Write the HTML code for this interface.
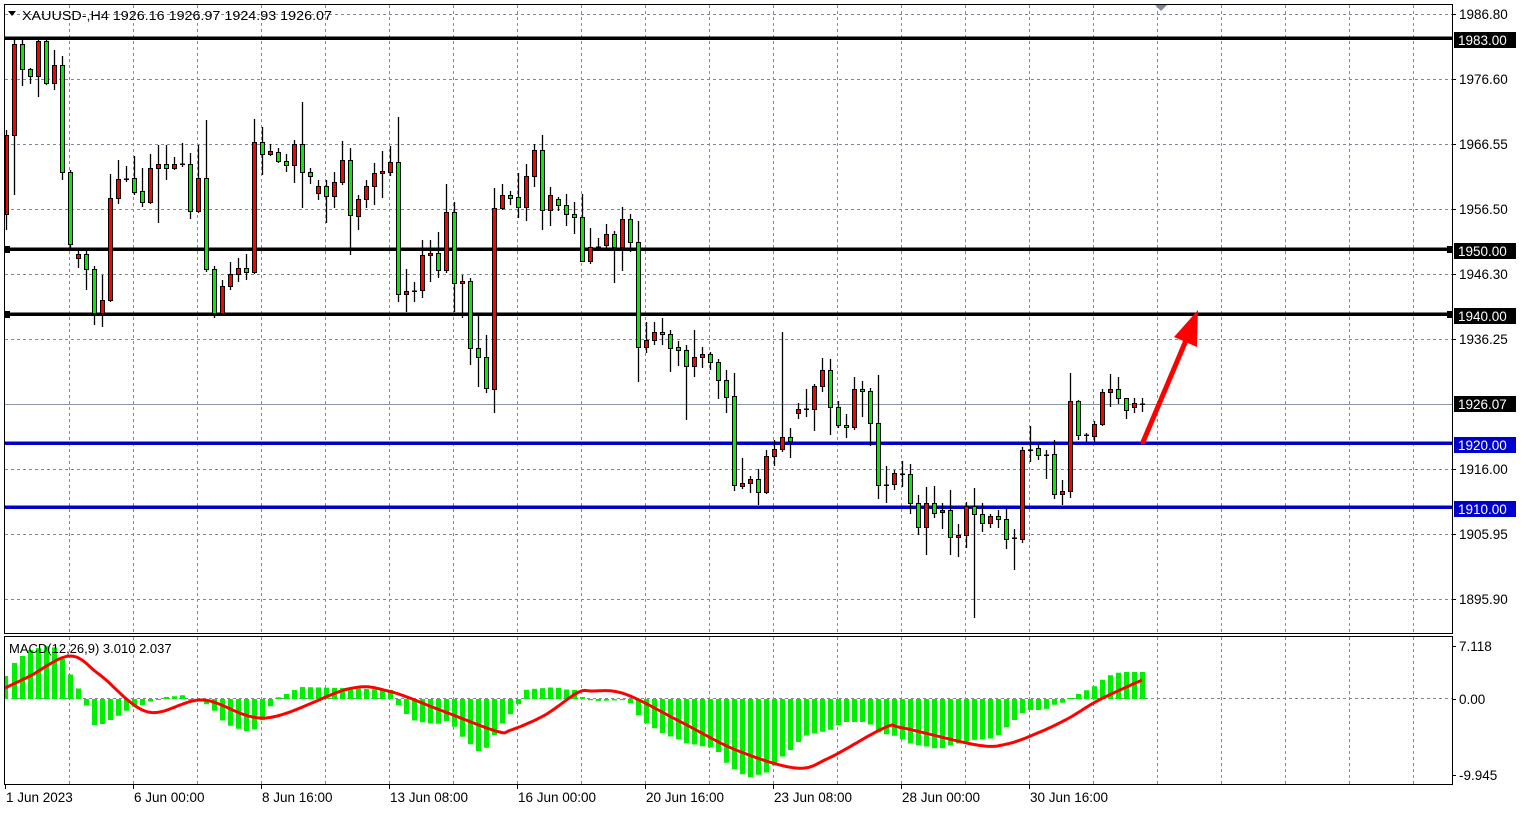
<!DOCTYPE html>
<html><head><meta charset="utf-8"><style>
html,body{margin:0;padding:0;background:#fff;}
svg{display:block;font-family:"Liberation Sans",sans-serif;}
</style></head><body>
<svg id="c" width="1526" height="813" xmlns="http://www.w3.org/2000/svg">
<rect x="0" y="0" width="1526" height="813" fill="#fff"/>
<g id="grid" stroke="#7d8a99" stroke-width="1" stroke-dasharray="3,3"></g>
<g id="lines"></g>
<g id="candles"></g>
<g id="macd"></g>
<g id="frame" fill="none" stroke="#000" stroke-width="1">
<rect x="4.5" y="4.5" width="1448" height="629"/>
<rect x="4.5" y="636.5" width="1448" height="148"/>
</g>
<path d="M1155,5 L1167,5 L1161,11 Z" fill="#7d8a99"/>
<g id="labels" font-size="13.5" fill="#000"></g>
<text x="22" y="20" font-size="13" textLength="310" lengthAdjust="spacingAndGlyphs">XAUUSD-,H4  1926.16 1926.97 1924.93 1926.07</text>
<path d="M8,11 L16,11 L12,16 Z" fill="#000"/>
<text x="9" y="653" font-size="13">MACD(12,26,9) 3.010 2.037</text>
</svg>
<script>
var NS="http://www.w3.org/2000/svg";
function el(p,t,a){var e=document.createElementNS(NS,t);for(var k in a)e.setAttribute(k,a[k]);p.appendChild(e);return e;}
var grid=document.getElementById('grid'),lines=document.getElementById('lines'),cg=document.getElementById('candles'),mg=document.getElementById('macd'),lb=document.getElementById('labels');
for(var x=69;x<1452;x+=64){el(grid,'line',{x1:x+.5,y1:5,x2:x+.5,y2:633});el(grid,'line',{x1:x+.5,y1:637,x2:x+.5,y2:784});}
var hy=[14,79,144,209,274,339,469,534,599];
hy.forEach(function(y){el(grid,'line',{x1:5,y1:y+.5,x2:1452,y2:y+.5});});
el(grid,'line',{x1:5,y1:404.5,x2:1452,y2:404.5,'stroke-dasharray':'none',stroke:'#8a96a3'});
el(grid,'line',{x1:5,y1:698.5,x2:1452,y2:698.5});
[[38,'#000'],[249,'#000'],[314,'#000'],[443,'#0000cc'],[507,'#0000cc']].forEach(function(a){el(lines,'rect',{x:5,y:a[0]-1.5,width:1447,height:3.5,fill:a[1]});});
el(lines,'rect',{x:4,y:246,width:6,height:7,fill:'#000'});
el(lines,'rect',{x:4,y:311,width:6,height:7,fill:'#000'});
el(lines,'rect',{x:1447,y:246,width:6,height:7,fill:'#000'});
el(lines,'rect',{x:1447,y:311,width:6,height:7,fill:'#000'});
var D=[[214,135,130,230],[135,44,38,195],[44,69,40,86],[69,76,68,84],[76,41,38,97],[41,83,38,85],[83,65,50,90],[65,172,56,180],[172,244,170,250],[258,254,250,268],[254,269,250,290],[269,313,266,325],[313,300,275,327],[300,198,174,302],[198,179,160,204],[179,179,166,182],[178,192,156,195],[191,202,168,207],[202,168,154,204],[168,164,145,223],[164,168,145,180],[168,164,157,170],[164,164,143,167],[164,211,153,219],[211,178,145,213],[178,269,120,272],[269,313,266,318],[313,286,280,315],[286,274,262,290],[274,268,258,282],[268,272,254,280],[272,142,119,274],[142,154,127,175],[154,151,144,156],[152,161,148,163],[161,165,154,172],[165,144,140,183],[144,172,102,208],[172,176,168,184],[193,186,180,200],[186,196,180,223],[196,182,172,208],[182,160,141,185],[160,215,148,255],[216,199,195,230],[199,186,180,208],[186,173,163,205],[173,171,151,198],[172,162,146,176],[162,294,117,302],[294,291,269,312],[291,291,282,302],[290,255,240,298],[255,253,240,282],[253,270,232,278],[270,212,184,273],[212,283,202,312],[283,281,275,318],[281,348,278,365],[348,357,315,387],[357,388,335,393],[389,208,188,413],[208,195,184,210],[195,198,191,205],[197,207,173,218],[207,176,164,221],[176,150,144,187],[150,210,135,230],[210,195,187,226],[199,205,197,211],[205,214,194,226],[214,217,202,234],[217,261,194,262],[261,247,228,264],[247,247,238,250],[245,234,224,250],[234,247,231,283],[247,219,207,271],[219,242,214,252],[242,347,221,382],[347,340,322,353],[340,332,322,345],[332,334,318,345],[334,348,330,372],[347,350,341,366],[350,366,345,420],[366,357,330,377],[357,354,347,368],[354,362,352,370],[362,380,359,399],[380,397,370,413],[396,485,373,491],[486,483,458,489],[483,479,476,493],[479,492,469,505],[492,456,450,494],[456,449,440,466],[449,437,332,452],[437,441,428,458],[413,409,403,419],[409,409,389,417],[409,386,384,431],[386,370,358,392],[370,407,359,435],[407,425,401,428],[425,427,414,438],[427,389,377,430],[389,391,381,417],[391,423,388,446],[423,485,375,499],[485,485,466,503],[484,473,470,490],[474,474,461,487],[474,503,464,514],[503,527,495,535],[527,503,487,555],[503,513,486,518],[512,510,503,529],[510,537,490,555],[537,535,524,557],[535,506,502,548],[506,514,488,618],[514,523,503,532],[523,516,514,528],[516,519,510,528],[519,539,509,549],[538,538,529,570],[539,450,447,543],[450,450,426,462],[448,455,444,460],[455,455,450,479],[454,494,440,499],[494,491,480,505],[491,401,373,498],[401,435,400,440],[435,435,433,442],[436,424,421,442],[424,392,389,426],[392,389,374,407],[389,398,377,404],[398,410,398,419],[407,403,398,413],[404,404,398,412]];
D.forEach(function(d,i){
  var cx=6+8*i; if(cx<5) return;
  el(cg,'line',{x1:cx+.5,y1:d[2],x2:cx+.5,y2:d[3],stroke:'#000','stroke-width':1.3});
  var t=Math.min(d[0],d[1]),b=Math.max(d[0],d[1]);
  if(b-t<1){el(cg,'rect',{x:cx-2,y:t-0.5,width:5,height:1.5,fill:'#000'});return;}
  var col=d[1]<d[0]?'#ff0000':'#00ee00';
  var x0=Math.max(cx-2,5);
  el(cg,'rect',{x:x0+.5,y:t+.5,width:cx+3-x0-1,height:b-t,fill:col,stroke:'#000','stroke-width':1});
});
el(cg,'line',{x1:1143,y1:442,x2:1187,y2:338,stroke:'#ff0000','stroke-width':5,'stroke-linecap':'round'});
el(cg,'path',{d:'M1198,310 L1174,337 L1197,347 Z',fill:'#ff0000'});
var K=[[6,676],[14,663],[22,656],[30,650],[52,645],[60,655],[68,671],[76,685],[84,699],[92,725],[100,725],[108,721],[116,717],[124,712],[132,707],[140,706],[148,702],[156,700],[164,697],[172,697],[180,694],[188,699],[196,699],[204,703],[212,708],[220,719],[228,725],[236,728],[244,731],[252,731],[260,724],[268,709],[276,698],[284,695],[292,691],[300,687],[340,688],[392,690],[396,703],[404,712],[412,720],[420,722],[428,723],[436,725],[444,720],[452,724],[460,735],[468,742],[476,751],[484,751],[492,738],[500,726],[508,716],[516,709],[524,690],[532,689],[556,687],[564,690],[572,688],[580,696],[588,700],[596,701],[628,700],[636,713],[644,722],[652,727],[660,732],[668,736],[676,738],[684,743],[692,744],[700,746],[708,747],[716,749],[724,761],[732,768],[740,773],[748,778],[756,775],[764,774],[772,768],[780,758],[788,752],[796,744],[804,736],[812,734],[820,732],[828,731],[836,726],[844,722],[868,722],[876,732],[884,734],[892,735],[900,738],[908,743],[916,745],[924,746],[932,748],[940,749],[948,746],[956,744],[964,742],[972,740],[988,739],[996,737],[1004,729],[1012,722],[1020,714],[1028,710],[1044,710],[1052,705],[1060,704],[1068,699],[1076,695],[1084,691],[1092,688],[1100,681],[1108,676],[1116,673],[1124,672],[1142,672]];
function interp(P,x){if(x<=P[0][0])return P[0][1];for(var j=1;j<P.length;j++){if(x<=P[j][0]){var a=P[j-1],b=P[j];return a[1]+(b[1]-a[1])*(x-a[0])/(b[0]-a[0]);}}return P[P.length-1][1];}
for(var i=0;i<143;i++){var cx=6+8*i;var y=interp(K,cx);var z=699;
  var t=Math.min(y,z),h=Math.abs(y-z);if(h<1)h=1;
  el(mg,'rect',{x:Math.max(cx-2,5),y:t,width:cx<8?3:5,height:h,fill:'#00ee00'});}
var S=[[5,688],[30,676],[70,656],[100,675],[148,712],[203,700],[266,718],[348,689],[388,691],[440,710],[496,731],[511,730],[545,715],[577,693],[592,691],[625,694],[681,722],[736,750],[796,768],[829,758],[884,728],[903,728],[977,745],[1007,744],[1040,732],[1069,718],[1099,700],[1142,680]];
// Catmull-Rom smoothing
var pts=[];
for(var j=0;j<S.length-1;j++){
  var p0=S[Math.max(j-1,0)],p1=S[j],p2=S[j+1],p3=S[Math.min(j+2,S.length-1)];
  for(var s=0;s<16;s++){var t=s/16,t2=t*t,t3=t2*t;
    var xx=0.5*((2*p1[0])+(-p0[0]+p2[0])*t+(2*p0[0]-5*p1[0]+4*p2[0]-p3[0])*t2+(-p0[0]+3*p1[0]-3*p2[0]+p3[0])*t3);
    var yy=0.5*((2*p1[1])+(-p0[1]+p2[1])*t+(2*p0[1]-5*p1[1]+4*p2[1]-p3[1])*t2+(-p0[1]+3*p1[1]-3*p2[1]+p3[1])*t3);
    pts.push(xx.toFixed(1)+','+yy.toFixed(1));}
}
pts.push(S[S.length-1][0]+','+S[S.length-1][1]);
el(mg,'path',{d:'M'+pts.join(' L'),fill:'none',stroke:'#ff0000','stroke-width':3,'stroke-linejoin':'round'});
[['1986.80',14],['1976.60',79],['1966.55',144],['1956.50',209],['1946.30',274],['1936.25',339],['1916.00',469],['1905.95',534],['1895.90',599],['7.118',646],['0.00',699],['-9.945',775]].forEach(function(a){
  el(lb,'line',{x1:1452,y1:a[1]+.5,x2:1456,y2:a[1]+.5,stroke:'#000'});
  var t=el(lb,'text',{x:1459,y:a[1]+5});t.textContent=a[0];});
[['1983.00',40,'#000'],['1950.00',251,'#000'],['1940.00',316,'#000'],['1926.07',404,'#000'],['1920.00',445,'#0000cc'],['1910.00',509,'#0000cc']].forEach(function(a){
  el(lb,'rect',{x:1454,y:a[1]-8,width:62,height:16,fill:a[2]});
  var t=el(lb,'text',{x:1458,y:a[1]+5,fill:'#fff'});t.textContent=a[0];});
[['1 Jun 2023',5],['6 Jun 00:00',133],['8 Jun 16:00',261],['13 Jun 08:00',389],['16 Jun 00:00',517],['20 Jun 16:00',645],['23 Jun 08:00',773],['28 Jun 00:00',901],['30 Jun 16:00',1029]].forEach(function(a){
  el(lb,'line',{x1:a[1]+.5,y1:784,x2:a[1]+.5,y2:789,stroke:'#000'});
  var t=el(lb,'text',{x:a[1]+1,y:802});t.textContent=a[0];});
</script>
</body></html>
